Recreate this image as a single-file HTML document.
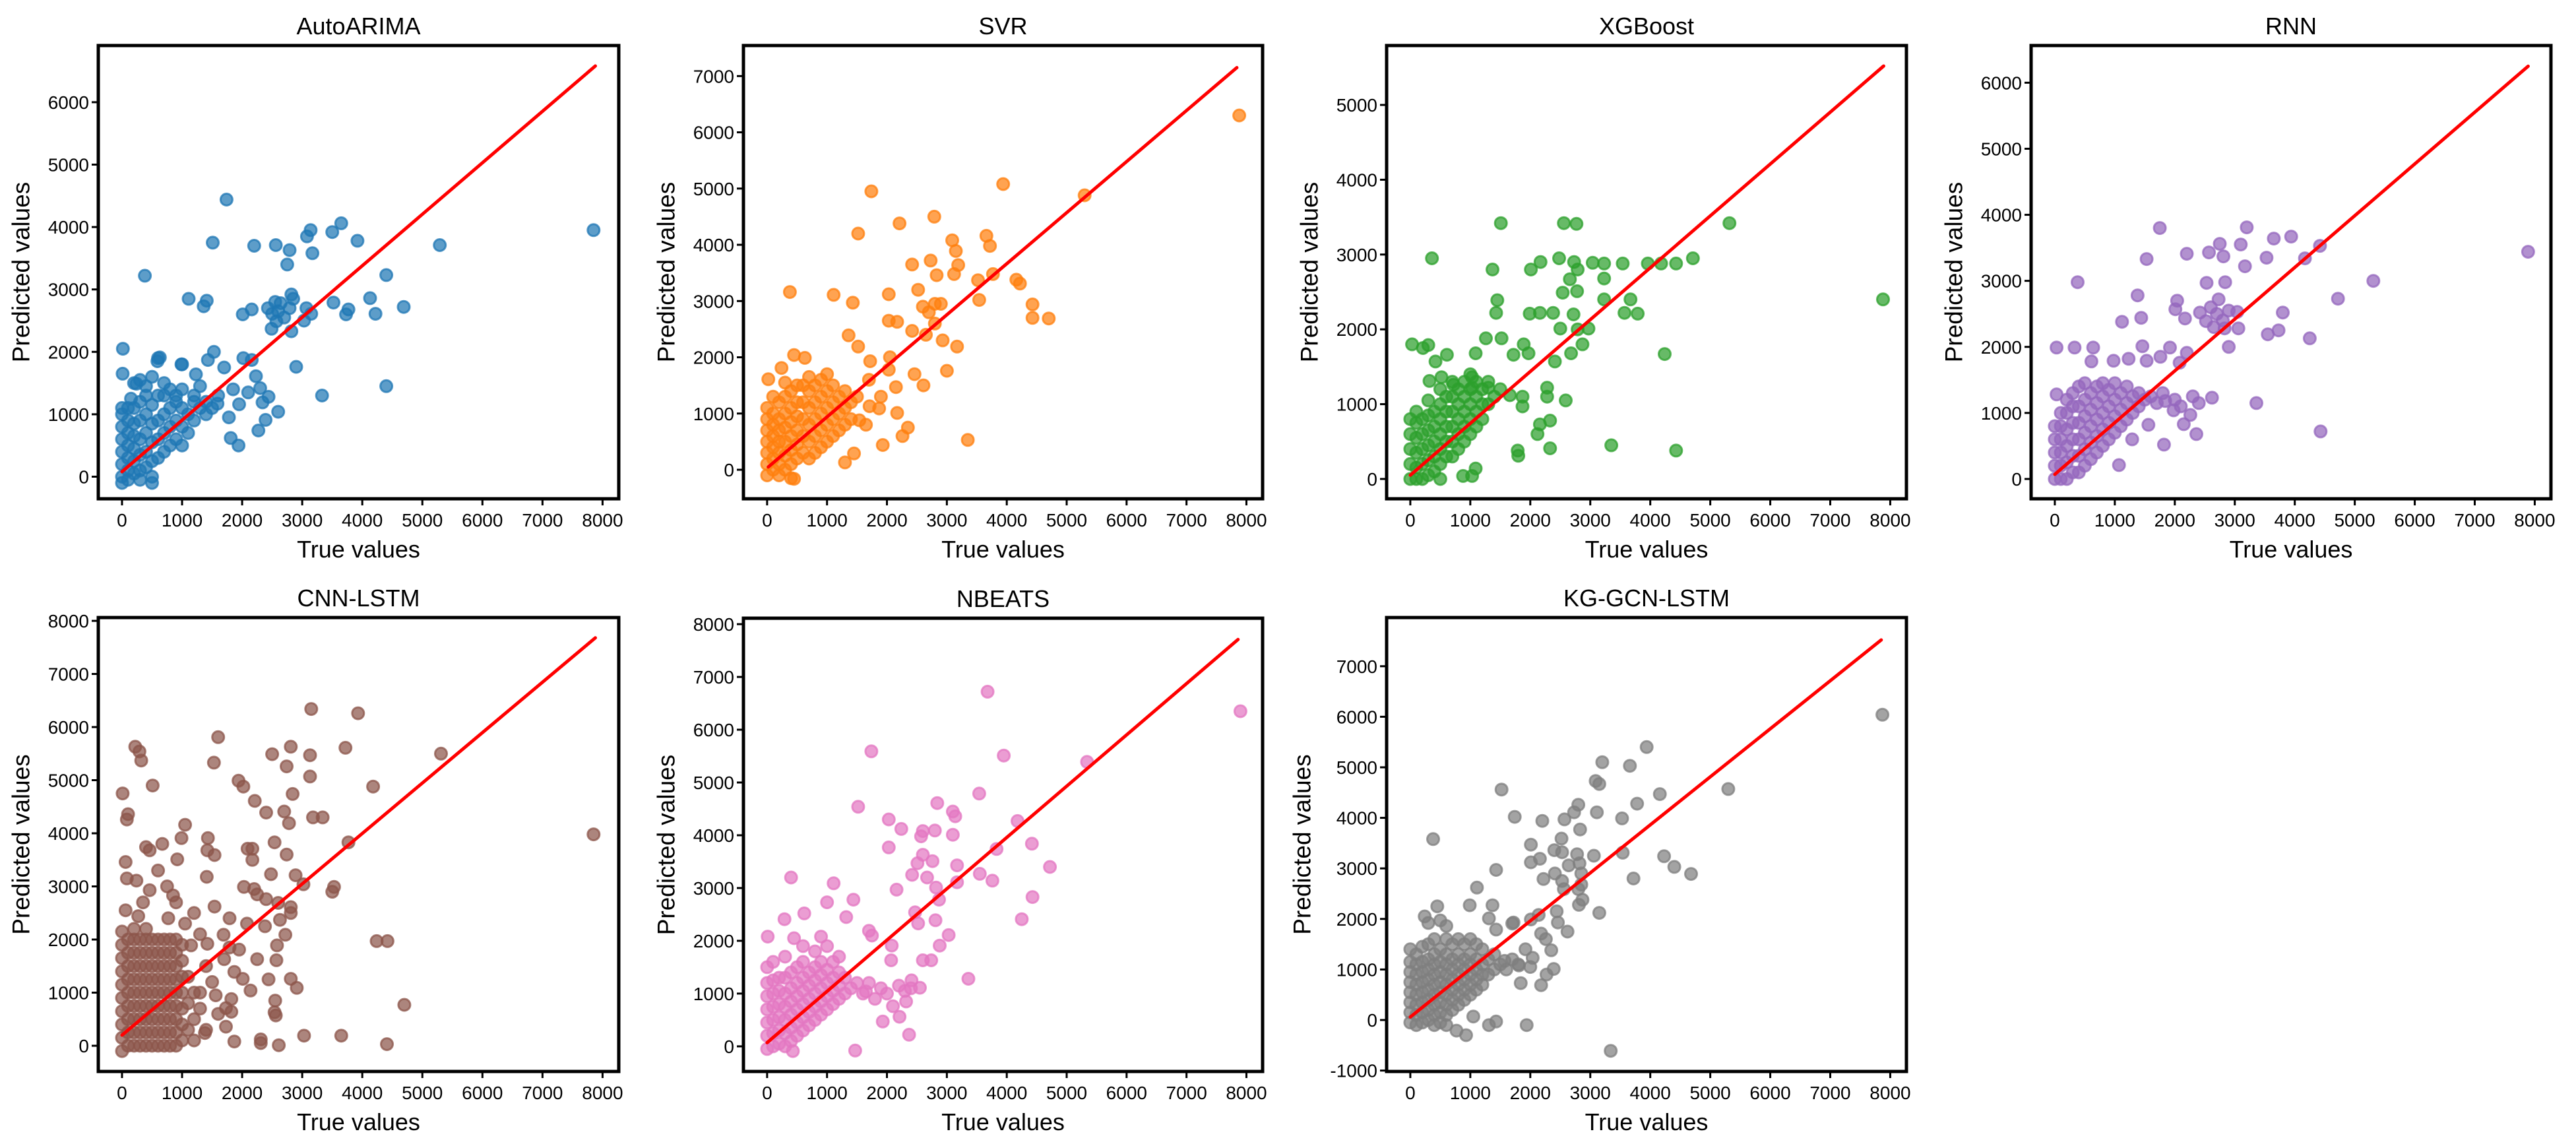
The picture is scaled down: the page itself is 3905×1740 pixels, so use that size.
<!DOCTYPE html>
<html><head><meta charset="utf-8"><style>
html,body{margin:0;padding:0;background:#fff;}
svg{display:block;font-family:"Liberation Sans",sans-serif;}
</style></head><body>
<svg id="fig" width="3905" height="1740" viewBox="0 0 3905 1740" xmlns="http://www.w3.org/2000/svg"></svg>
<script>
const modelNames = ["AutoARIMA","SVR","XGBoost","RNN","CNN-LSTM","NBEATS","KG-GCN-LSTM"];
const modelColors = ["#1f77b4","#ff7f0e","#2ca02c","#9467bd","#8c564b","#e377c2","#7f7f7f"];
const xTicks = [0,1000,2000,3000,4000,5000,6000,7000,8000];
const yTicksAuto = [0,1000,2000,3000,4000,5000,6000];
const yTicksSvr = [0,1000,2000,3000,4000,5000,6000,7000];
const yTicksXgb = [0,1000,2000,3000,4000,5000];
const yTicksRnn = [0,1000,2000,3000,4000,5000,6000];
const yTicksCnn = [0,1000,2000,3000,4000,5000,6000,7000,8000];
const yTicksNbeats = [0,1000,2000,3000,4000,5000,6000,7000,8000];
const yTicksKg = [-1000,0,1000,2000,3000,4000,5000,6000,7000];
const yDomainAuto = [-354,6908];
const yDomainSvr = [-516,7543];
const yDomainXgb = [-265,5794];
const yDomainRnn = [-300,6563];
const yDomainCnn = [-484,8062];
const yDomainNbeats = [-476,8113];
const yDomainKg = [-1018,7963];
const xDomain = [-395,8270];
const fitAuto = [[0,80],[7880,6580]];
const fitSvr = [[20,50],[7840,7150]];
const fitXgb = [[0,50],[7890,5520]];
const fitRnn = [[0,70],[7890,6250]];
const fitCnn = [[0,200],[7880,7680]];
const fitNbeats = [[0,70],[7860,7710]];
const fitKg = [[0,60],[7850,7520]];

const clusterAuto = [[0,-100],[0,0],[0,200],[0,400],[0,600],[0,800],[0,1000],[100,-50],[100,100],[100,300],[100,500],[100,700],[100,900],[100,1100],[200,50],[200,250],[200,450],[200,650],[200,850],[200,1100],[300,-50],[300,100],[300,350],[300,600],[300,900],[300,1200],[400,150],[400,400],[400,700],[400,1000],[400,1300],[500,-100],[500,0],[500,250],[500,550],[500,850],[500,1150],[600,300],[600,600],[600,900],[600,1300],[700,400],[700,700],[700,1000],[700,1300],[800,500],[800,800],[800,1100],[800,1400],[900,600],[900,900],[900,1200],[1000,500],[1000,800],[1000,1100],[1000,1400],[1100,700],[1100,1000],[1200,900],[1200,1200],[1300,1100],[1400,1200],[1500,1100],[200,1500],[300,1550],[500,1600],[600,1900],[1000,1800],[0,1100],[150,1250],[400,1450],[700,1500],[900,1300]];
const outAuto = [[1740,4440],[380,3220],[15,2050],[10,1650],[1510,3750],[2200,3700],[2560,3710],[2790,3630],[2750,3400],[3080,3850],[3140,3950],[3500,3920],[3650,4060],[3920,3780],[3170,3580],[5290,3710],[7850,3950],[1110,2850],[1410,2820],[1360,2730],[4400,3230],[4130,2860],[4220,2610],[4690,2720],[3520,2790],[3730,2600],[3770,2680],[2900,1760],[3330,1300],[4400,1450],[630,1910],[590,1850],[990,1800],[1530,2000],[1430,1870],[2020,1900],[2160,1870],[2010,2600],[2160,2680],[2430,2700],[2500,2610],[2570,2490],[2490,2370],[2820,2330],[2820,2920],[2790,2700],[3030,2500],[3070,2700],[3150,2610],[2640,2780],[2230,1610],[2300,1420],[2440,1280],[2340,1190],[1950,1160],[1780,950],[1810,620],[1940,500],[2270,740],[2390,910],[2600,1040],[1230,1640],[1590,1170],[240,1490],[2550,2800],[2600,2650],[2700,2550],[2850,2850],[1300,1450],[1700,1750],[1850,1400],[2100,1350],[1200,1300],[1400,1000],[1600,1300]];

const clusterSvr = [[0,-100],[0,100],[0,300],[0,500],[0,700],[0,900],[0,1100],[100,0],[100,200],[100,400],[100,600],[100,800],[100,1000],[200,-100],[200,100],[200,300],[200,500],[200,700],[200,900],[200,1200],[300,0],[300,250],[300,500],[300,750],[300,1000],[300,1300],[400,-150],[400,100],[400,350],[400,600],[400,850],[400,1100],[400,1400],[500,200],[500,450],[500,700],[500,950],[500,1200],[500,1500],[600,300],[600,600],[600,900],[600,1200],[600,1500],[700,200],[700,500],[700,800],[700,1100],[700,1400],[800,300],[800,600],[800,900],[800,1200],[800,1500],[900,400],[900,700],[900,1000],[900,1300],[1000,500],[1000,800],[1000,1100],[1000,1400],[1100,600],[1100,900],[1100,1200],[1100,1500],[1200,700],[1200,1000],[1200,1300],[1300,800],[1300,1100],[1300,1400],[1400,900],[1400,1200],[1500,1300],[900,1600],[1000,1700],[700,1650],[300,1550],[100,1300]];
const outSvr = [[1740,4950],[3940,5080],[7880,6300],[5300,4880],[2790,4500],[2210,4380],[1520,4200],[3090,4080],[3150,3890],[3660,4160],[3720,3980],[2420,3650],[2730,3720],[3190,3640],[3120,3480],[2830,3460],[3520,3370],[3770,3480],[4160,3380],[4220,3310],[4430,2940],[4430,2700],[4700,2690],[380,3160],[1110,3110],[1430,2970],[2030,3120],[2520,3200],[3540,3020],[2030,2650],[2170,2630],[2420,2470],[1360,2390],[1520,2190],[1720,1930],[450,2040],[630,1990],[240,1810],[20,1610],[3000,1760],[2610,1500],[2460,1700],[2150,1470],[2930,2300],[3170,2190],[3350,530],[1930,440],[2260,600],[2350,750],[1300,130],[1450,290],[450,-160],[1870,1090],[2170,1010],[1710,1130],[1540,880],[2030,1780],[2600,2900],[2700,2800],[2900,2950],[2800,2600],[2650,2400],[1700,1600],[1900,1300],[2050,2000],[1650,800],[2800,2950]];

const clusterXgb = [[0,0],[0,200],[0,400],[0,600],[0,800],[100,0],[100,150],[100,350],[100,550],[100,750],[100,900],[200,0],[200,200],[200,400],[200,600],[200,800],[300,50],[300,250],[300,450],[300,650],[300,850],[300,1050],[400,100],[400,300],[400,500],[400,700],[400,900],[500,0],[500,200],[500,400],[500,600],[500,800],[500,1000],[600,300],[600,500],[600,700],[600,900],[600,1100],[700,300],[700,500],[700,700],[700,900],[700,1100],[800,400],[800,600],[800,800],[800,1000],[800,1200],[900,500],[900,700],[900,900],[900,1100],[900,1300],[1000,600],[1000,800],[1000,1000],[1000,1200],[1000,1400],[1100,700],[1100,900],[1100,1100],[1100,1300],[1200,800],[1200,1000],[1200,1200],[1300,1000],[1300,1300],[1400,1100],[1500,1200],[700,1300],[500,1200]];
const outXgb = [[360,2950],[30,1800],[300,1790],[210,1750],[1370,2800],[1510,3420],[2560,3420],[2770,3410],[2010,2800],[2170,2900],[2480,2950],[2730,2900],[2790,2800],[3040,2890],[2660,2670],[2540,2490],[2780,2510],[1450,2390],[1430,2220],[1990,2210],[2160,2220],[2380,2220],[2720,2200],[2500,2010],[2790,2000],[2970,2010],[2870,1800],[2680,1680],[2410,1570],[1970,1680],[1720,1660],[1260,1880],[1520,1880],[1890,1800],[1090,1680],[610,1660],[420,1570],[320,1310],[520,1360],[720,1260],[1030,1360],[1030,1220],[1300,1220],[1660,1120],[1870,970],[1870,1100],[2280,1220],[2280,1100],[2590,1050],[2160,730],[2120,600],[2330,780],[1790,380],[1800,310],[2330,410],[880,40],[1030,40],[1090,140],[5320,3420],[4710,2950],[4430,2880],[4180,2880],[3960,2880],[3540,2880],[3230,2880],[3230,2680],[3230,2400],[3670,2400],[3570,2220],[3790,2210],[4240,1670],[3350,450],[4430,380],[7880,2400]];

const clusterRnn = [[0,0],[0,200],[0,400],[0,600],[0,800],[100,0],[100,200],[100,400],[100,600],[100,800],[100,1000],[200,0],[200,250],[200,500],[200,750],[200,1000],[200,1200],[300,100],[300,350],[300,600],[300,850],[300,1100],[300,1300],[400,100],[400,350],[400,600],[400,850],[400,1100],[400,1400],[500,200],[500,450],[500,700],[500,950],[500,1200],[500,1450],[600,300],[600,550],[600,800],[600,1050],[600,1300],[700,400],[700,650],[700,900],[700,1150],[700,1400],[800,500],[800,750],[800,1000],[800,1250],[800,1450],[900,600],[900,850],[900,1100],[900,1350],[1000,700],[1000,950],[1000,1200],[1000,1450],[1100,800],[1100,1050],[1100,1300],[1200,900],[1200,1150],[1200,1400],[1300,1000],[1300,1250],[1400,1100],[1400,1300],[1500,1200],[1600,1250],[1700,1150],[1800,1300],[2000,1200],[2100,1100],[2300,1250],[2400,1150]];
const outRnn = [[1750,3800],[3200,3810],[3650,3640],[3940,3670],[2750,3560],[3100,3550],[2570,3430],[2810,3370],[2200,3410],[1530,3330],[3530,3350],[4170,3340],[4420,3530],[3170,3220],[7890,3440],[5310,3000],[380,2980],[2530,2970],[2840,2980],[1380,2780],[2040,2700],[2010,2570],[2730,2720],[4720,2730],[2170,2430],[1440,2440],[1120,2380],[2420,2520],[3040,2530],[3800,2520],[3550,2190],[3730,2250],[4250,2130],[2520,2390],[2830,2280],[3060,2280],[2900,2000],[30,1990],[330,1990],[640,1990],[1460,2010],[1920,1990],[2200,1910],[610,1780],[980,1790],[1230,1820],[1530,1790],[1760,1850],[2080,1760],[3360,1150],[4430,720],[2360,680],[1820,520],[2620,1230],[2150,830],[2260,970],[1980,1040],[1840,1180],[1560,820],[1290,600],[1070,210],[30,1280],[2600,2600],[2700,2500],[2800,2400],[2650,2300],[2900,2550]];

const clusterCnn = [[0,-100],[0,150],[0,400],[0,650],[0,900],[0,1150],[0,1400],[0,1650],[0,1900],[0,2150],[100,0],[100,250],[100,500],[100,750],[100,1000],[100,1250],[100,1500],[100,1750],[100,2000],[200,0],[200,250],[200,500],[200,750],[200,1000],[200,1250],[200,1500],[200,1750],[200,2000],[200,2200],[300,0],[300,250],[300,500],[300,750],[300,1000],[300,1250],[300,1500],[300,1750],[300,2000],[400,0],[400,250],[400,500],[400,750],[400,1000],[400,1250],[400,1500],[400,1750],[400,2000],[400,2200],[500,0],[500,250],[500,500],[500,750],[500,1000],[500,1250],[500,1500],[500,1750],[500,2000],[600,0],[600,250],[600,500],[600,750],[600,1000],[600,1250],[600,1500],[600,1750],[600,2000],[700,0],[700,250],[700,500],[700,750],[700,1000],[700,1250],[700,1500],[700,1750],[700,2000],[800,0],[800,250],[800,500],[800,750],[800,1000],[800,1250],[800,1500],[800,1750],[800,2000],[900,0],[900,250],[900,500],[900,750],[900,1000],[900,1250],[900,1500],[900,1750],[900,2000],[1000,100],[1000,400],[1000,700],[1000,1000],[1000,1300],[1000,1600],[1000,1900],[1100,300],[1100,800],[1100,1300],[1200,500],[1200,1000],[1300,700]];
const outCnn = [[3150,6340],[3930,6260],[1600,5810],[220,5630],[290,5540],[320,5370],[2810,5630],[3720,5610],[5310,5500],[3130,5470],[2500,5490],[1530,5330],[2740,5260],[3130,5070],[1940,4990],[2020,4880],[510,4900],[4180,4880],[10,4750],[2210,4610],[2840,4740],[100,4360],[80,4260],[2400,4390],[2700,4410],[2780,4190],[3180,4300],[3340,4300],[1050,4160],[3770,3830],[990,3910],[1430,3910],[2090,3710],[2170,3710],[2540,3830],[2740,3600],[400,3740],[460,3680],[670,3800],[60,3460],[920,3510],[1540,3590],[1420,3680],[2170,3500],[80,3150],[240,3110],[1410,3180],[2480,3230],[2890,3210],[3020,3040],[3530,2990],[3500,2900],[460,2930],[850,2830],[2030,2990],[2200,2950],[2250,2850],[2400,2760],[1540,2620],[2600,2690],[2810,2610],[2810,2500],[60,2550],[270,2440],[770,2400],[1050,2300],[1790,2400],[2080,2300],[2380,2250],[2630,2370],[2720,2090],[1690,2090],[4240,1970],[4420,1970],[1150,1890],[1420,1920],[1790,1850],[1950,1810],[2580,1890],[1700,1630],[2250,1630],[2570,1610],[1870,1390],[2010,1260],[2440,1250],[2810,1260],[2910,1090],[2140,1040],[1560,950],[1820,880],[2550,850],[4700,770],[1730,710],[1820,640],[2540,630],[2560,570],[1730,360],[1380,240],[3030,190],[3650,190],[1870,80],[2310,120],[2310,50],[2610,10],[4410,30],[7850,3980],[600,3300],[750,3000],[900,2700],[350,2700],[1200,2500],[1300,2100],[1400,1500],[1500,1200],[1300,1000],[1600,600],[1400,300],[1200,100]];

const clusterNbeats = [[0,-50],[0,200],[0,450],[0,700],[0,950],[0,1200],[0,1500],[100,0],[100,250],[100,500],[100,750],[100,1000],[100,1250],[100,1600],[200,50],[200,300],[200,550],[200,800],[200,1050],[200,1300],[300,0],[300,250],[300,500],[300,750],[300,1000],[300,1300],[300,1700],[400,100],[400,350],[400,600],[400,850],[400,1100],[400,1400],[500,200],[500,450],[500,700],[500,950],[500,1200],[500,1500],[600,300],[600,550],[600,800],[600,1050],[600,1300],[600,1600],[700,400],[700,650],[700,900],[700,1150],[700,1400],[800,500],[800,750],[800,1000],[800,1250],[800,1500],[900,600],[900,850],[900,1100],[900,1350],[900,1600],[1000,700],[1000,950],[1000,1200],[1000,1450],[1100,800],[1100,1050],[1100,1300],[1100,1600],[1200,900],[1200,1150],[1200,1400],[1300,1000],[1300,1300],[1400,1100],[1500,1200],[1600,1000],[1700,1200],[1800,900],[1900,1100],[2000,1000],[2200,1150],[2300,1050],[2400,1100]];
const outNbeats = [[3680,6720],[7900,6350],[1740,5590],[3950,5510],[5340,5390],[3540,4790],[1520,4540],[2840,4610],[3100,4450],[3140,4360],[2030,4300],[2240,4120],[4180,4270],[2600,4080],[2800,4090],[3100,4010],[2570,3980],[4420,3840],[2030,3770],[3830,3740],[2600,3630],[2510,3470],[2760,3510],[3170,3430],[4720,3400],[2420,3250],[3550,3270],[3760,3140],[2670,3200],[3170,3110],[1110,3090],[400,3200],[2160,2970],[2820,3010],[2870,2780],[1440,2780],[1000,2730],[4430,2830],[620,2520],[1320,2450],[290,2410],[2470,2540],[4250,2410],[2810,2390],[1700,2190],[2520,2330],[3030,2110],[1750,2100],[10,2080],[450,2050],[900,2080],[2080,1910],[2880,1910],[2600,1630],[2740,1630],[2070,1630],[3360,1280],[2550,1110],[2410,1250],[2320,850],[2100,760],[1930,470],[2210,560],[2370,220],[1470,-80],[430,-90],[1650,1040],[1200,1700],[1000,1900],[600,1900],[800,1800]];

const clusterKg = [[0,-50],[0,150],[0,350],[0,550],[0,750],[0,950],[0,1150],[0,1400],[100,-100],[100,100],[100,300],[100,500],[100,700],[100,900],[100,1100],[100,1300],[200,-50],[200,150],[200,350],[200,550],[200,750],[200,950],[200,1150],[200,1450],[300,0],[300,200],[300,400],[300,600],[300,800],[300,1000],[300,1200],[300,1500],[400,-100],[400,100],[400,300],[400,500],[400,700],[400,900],[400,1100],[400,1300],[400,1600],[500,-50],[500,150],[500,350],[500,550],[500,750],[500,950],[500,1150],[500,1400],[600,-100],[600,100],[600,300],[600,500],[600,700],[600,900],[600,1100],[600,1300],[600,1600],[700,200],[700,400],[700,600],[700,800],[700,1000],[700,1200],[700,1500],[800,300],[800,500],[800,700],[800,900],[800,1100],[800,1300],[800,1600],[900,400],[900,600],[900,800],[900,1000],[900,1200],[900,1500],[1000,500],[1000,700],[1000,900],[1000,1100],[1000,1300],[1000,1600],[1100,600],[1100,800],[1100,1000],[1100,1200],[1100,1500],[1200,700],[1200,900],[1200,1100],[1200,1400],[1300,900],[1300,1200],[1400,1000],[1400,1300],[1500,1100],[1600,1000],[1700,1200],[1800,1100],[2000,1050]];
const outKg = [[7870,6040],[3940,5400],[3200,5100],[3660,5030],[3090,4730],[3150,4670],[1520,4560],[5300,4570],[4160,4470],[2800,4260],[3780,4280],[2730,4110],[3110,4110],[1740,4020],[2200,3940],[2570,3970],[3530,3990],[2830,3770],[380,3580],[2520,3590],[2010,3470],[2400,3360],[2530,3320],[2780,3280],[3060,3250],[3540,3310],[4230,3240],[4400,3030],[4680,2890],[1430,2970],[2010,3120],[2160,3190],[2820,3100],[2640,3060],[2410,2900],[3720,2800],[2850,2900],[2220,2790],[2530,2750],[2850,2680],[1110,2620],[2560,2590],[2800,2590],[2870,2380],[2810,2280],[3150,2120],[990,2270],[1370,2270],[450,2250],[2440,2150],[2010,1990],[2140,2080],[240,2050],[300,1920],[500,1970],[600,1860],[1310,2010],[1430,1790],[1700,1910],[1720,1930],[2460,1930],[2620,1750],[2180,1710],[2260,1600],[2350,1380],[1920,1400],[2040,1230],[2390,1010],[2270,900],[2180,690],[1840,730],[1810,1080],[1570,1170],[3340,-610],[1940,-100],[1310,-100],[1430,-30],[1050,70],[930,-300],[770,-210]];

const clusterSets = [clusterAuto,clusterSvr,clusterXgb,clusterRnn,clusterCnn,clusterNbeats,clusterKg];
const outlierSets = [outAuto,outSvr,outXgb,outRnn,outCnn,outNbeats,outKg];
const yTickSets = [yTicksAuto,yTicksSvr,yTicksXgb,yTicksRnn,yTicksCnn,yTicksNbeats,yTicksKg];
const yDomains = [yDomainAuto,yDomainSvr,yDomainXgb,yDomainRnn,yDomainCnn,yDomainNbeats,yDomainKg];
const fitLines = [fitAuto,fitSvr,fitXgb,fitRnn,fitCnn,fitNbeats,fitKg];

// layout (pixel boxes: left, top, right, bottom)
const boxes = [[149,69,938,756],[1127,69,1914,756],[2102,69,2890,756],[3079,69,3867,756],[149,936,938,1624],[1127,937,1914,1624],[2102,936,2890,1624]];

const NS = "http://www.w3.org/2000/svg";
const svg = document.getElementById('fig');
function mk(tag, attrs, parent){
  const e = document.createElementNS(NS, tag);
  for (const k in attrs) e.setAttribute(k, attrs[k]);
  (parent||svg).appendChild(e);
  return e;
}
function slug(s){return s.toLowerCase().replace(/[^a-z0-9]+/g,'-');}

modelNames.forEach((name, i) => {
  const [L,T,R,B] = boxes[i];
  const yd = yDomains[i];
  const xs = v => L + (v - xDomain[0]) / (xDomain[1]-xDomain[0]) * (R-L);
  const ys = v => B - (v - yd[0]) / (yd[1]-yd[0]) * (B-T);
  const g = mk('g', {});
  
  
  const clipId = 'clip' + i;
  const cp = mk('clipPath', {id: clipId}, g);
  mk('rect', {x:L, y:T, width:R-L, height:B-T}, cp);

  const pts = mk('g', {'clip-path':'url(#'+clipId+')'}, g);
  
  
  const all = clusterSets[i].concat(outlierSets[i]);
  all.forEach(p => {
    const c = mk('circle', {cx: xs(p[0]).toFixed(1), cy: ys(p[1]).toFixed(1), r: 9, fill: modelColors[i], 'fill-opacity': 0.72, stroke: modelColors[i], 'stroke-opacity': 0.75, 'stroke-width': 3}, pts);
    
    
  });
  const f = fitLines[i];
  const ln = mk('line', {x1: xs(f[0][0]), y1: ys(f[0][1]), x2: xs(f[1][0]), y2: ys(f[1][1]), stroke: '#ff0000', 'stroke-width': 5, 'stroke-linecap':'round'}, g);
  
  

  const fr = mk('rect', {x:L, y:T, width:R-L, height:B-T, fill:'none', stroke:'#000', 'stroke-width':5}, g);
  
  

  xTicks.forEach(t => {
    const x = xs(t);
    const tk = mk('line', {x1:x, y1:B+2, x2:x, y2:B+10, stroke:'#000', 'stroke-width':3}, g);
    
    
    const tx = mk('text', {x:x, y:B+42, 'font-size':28, 'text-anchor':'middle'}, g);
    tx.textContent = String(t);
    
    
  });
  yTickSets[i].forEach(t => {
    const y = ys(t);
    const tk = mk('line', {x1:L-10, y1:y, x2:L-2, y2:y, stroke:'#000', 'stroke-width':3}, g);
    
    
    const tx = mk('text', {x:L-14, y:y+10, 'font-size':28, 'text-anchor':'end'}, g);
    tx.textContent = String(t);
    
    
  });
  const tt = mk('text', {x:(L+R)/2, y:T-17, 'font-size':36, 'text-anchor':'middle'}, g);
  tt.textContent = name;
  
  
  const xl = mk('text', {x:(L+R)/2, y:B+89, 'font-size':36, 'text-anchor':'middle'}, g);
  xl.textContent = 'True values';
  
  
  const ylx = L - (i === 6 ? 128 : 117);
  const yl = mk('text', {x:ylx, y:(T+B)/2, 'font-size':37, 'text-anchor':'middle', 'dominant-baseline':'central', transform:'rotate(-90 '+ylx+' '+((T+B)/2)+')'}, g);
  yl.textContent = 'Predicted values';
  
  
});
</script>
</body></html>
